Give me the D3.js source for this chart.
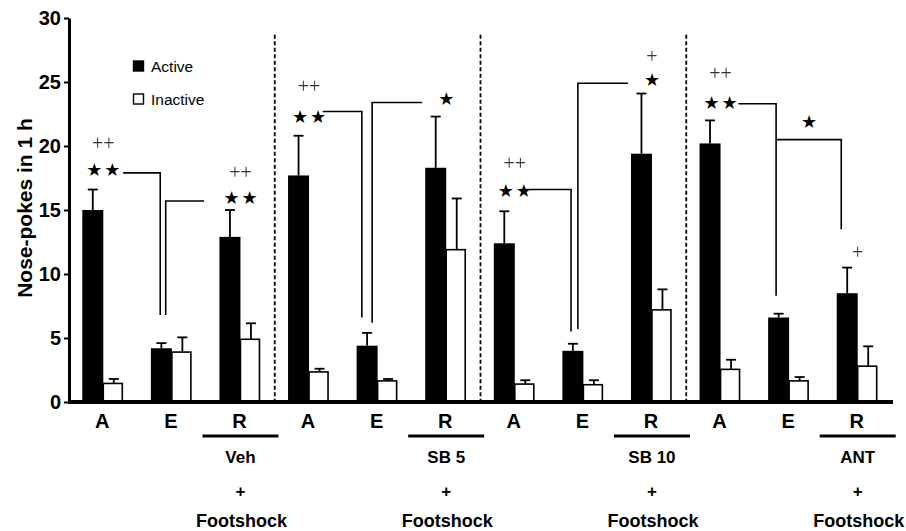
<!DOCTYPE html>
<html>
<head>
<meta charset="utf-8">
<script src="https://cdn.jsdelivr.net/npm/d3@7"></script>
<style>
  body { margin: 0; background: #fff; }
  svg { display: block; font-family: "Liberation Sans", Arial, sans-serif; }
  .tick text { font-weight: bold; font-size: 20px; fill: #000; }
  .plus { font-family: "Liberation Serif", serif; font-size: 20px; fill: #333; }
  .star { font-family: "DejaVu Sans", sans-serif; font-size: 18px; fill: #000; }
  .bracket { fill: none; stroke: #000; stroke-width: 1.6; }
</style>
</head>
<body>
<svg width="906" height="531"></svg>
<script>
// categories along the x axis (4 groups of A / E / R)
const categories = ["A","E","R","A","E","R","A","E","R","A","E","R"]
const treatments = ["Veh","SB 5","SB 10","ANT"]
const activeMean = [15.0, 4.2, 12.9, 17.7, 4.4, 18.3, 12.4, 4.0, 19.4, 20.2, 6.6, 8.5]
const activeSem = [1.6, 0.4, 2.1, 3.1, 1.0, 4.0, 2.5, 0.55, 4.7, 1.8, 0.3, 2.0]
const inactiveMean = [1.45, 3.9, 4.9, 2.35, 1.65, 11.9, 1.4, 1.35, 7.2, 2.55, 1.65, 2.8]
const inactiveSem = [0.35, 1.15, 1.25, 0.25, 0.15, 4.0, 0.3, 0.35, 1.6, 0.75, 0.3, 1.55]
const yTicks = [0, 5, 10, 15, 20, 25, 30]

// significance marks: x in category-index units, y in data units
const plusMarks = [
  {x: 0.5, v: 20.2, t: "++"}, {x: 2.5, v: 18.0, t: "++"}, {x: 3.5, v: 24.7, t: "++"},
  {x: 6.5, v: 18.7, t: "++"}, {x: 8.5, v: 27.0, t: "+"}, {x: 9.5, v: 25.7, t: "++"},
  {x: 11.5, v: 11.7, t: "+"}
]
const starMarks = [
  {x: 0.5, v: 18.2, n: 2}, {x: 2.5, v: 16.0, n: 2}, {x: 3.5, v: 22.3, n: 2},
  {x: 5.5, v: 23.7, n: 1}, {x: 6.5, v: 16.5, n: 2}, {x: 8.5, v: 25.2, n: 1},
  {x: 9.5, v: 23.4, n: 2}, {x: 10.79, v: 21.9, n: 1}
]
const brackets = [
  [[0.79, 17.9], [1.33, 17.9], [1.33, 6.8]],
  [[1.41, 6.8], [1.41, 15.7], [1.97, 15.7]],
  [[3.70, 22.7], [4.27, 22.7], [4.27, 6.6]],
  [[4.42, 6.2], [4.42, 23.4], [5.15, 23.4]],
  [[6.59, 16.6], [7.32, 16.6], [7.32, 5.5]],
  [[7.42, 5.7], [7.42, 24.9], [8.15, 24.9]],
  [[9.76, 23.3], [10.31, 23.3], [10.31, 8.3]],
  [[10.32, 20.5], [11.26, 20.5], [11.26, 13.5]]
]
const separators = [3, 6, 9]

const svg = d3.select("svg")

// plain offset filter so the thin plus glyphs get grey antialiasing
svg.append("defs").append("filter")
  .attr("id", "flat")
  .append("feOffset").attr("dx", 0).attr("dy", 0)

const x = d3.scaleBand()
  .domain(d3.range(categories.length))
  .range([69, 892])

const xIdx = d3.scaleLinear()
  .domain([0, categories.length])
  .range([69, 892])

const y = d3.scaleLinear()
  .domain([0, 30])
  .range([402, 18])

const barW = 21
const rows = categories.map((c, i) => ({
  i: i, cat: c,
  a: activeMean[i], ae: activeSem[i],
  n: inactiveMean[i], ne: inactiveSem[i]
}))
const cx = i => x(i) + x.bandwidth() / 2

// separators
svg.selectAll("line.sep")
  .data(separators)
  .enter().append("line")
  .attr("class", "sep")
  .attr("x1", d => xIdx(d)).attr("x2", d => xIdx(d))
  .attr("y1", y(28.7)).attr("y2", y(0))
  .attr("stroke", "#000")
  .attr("stroke-width", 1.8)
  .attr("stroke-dasharray", "4,2.5")

// error bars
const errs = []
rows.forEach(d => {
  errs.push({x: cx(d.i) - barW / 2, top: d.a + d.ae, base: d.a})
  errs.push({x: cx(d.i) + barW / 2, top: d.n + d.ne, base: d.n})
})
svg.selectAll("line.err")
  .data(errs)
  .enter().append("line")
  .attr("x1", d => d.x).attr("x2", d => d.x)
  .attr("y1", d => y(d.base)).attr("y2", d => y(d.top))
  .attr("stroke", "#000").attr("stroke-width", 1.8)
svg.selectAll("line.cap")
  .data(errs)
  .enter().append("line")
  .attr("x1", d => d.x - 5).attr("x2", d => d.x + 5)
  .attr("y1", d => y(d.top)).attr("y2", d => y(d.top))
  .attr("stroke", "#000").attr("stroke-width", 1.8)

// bars
svg.selectAll("rect.active")
  .data(rows)
  .enter().append("rect")
  .attr("x", d => cx(d.i) - barW)
  .attr("y", d => y(d.a))
  .attr("width", barW)
  .attr("height", d => y(0) - y(d.a))
  .attr("fill", "#000")

svg.selectAll("rect.inactive")
  .data(rows)
  .enter().append("rect")
  .attr("x", d => cx(d.i))
  .attr("y", d => y(d.n))
  .attr("width", barW - 2)
  .attr("height", d => y(0) - y(d.n))
  .attr("fill", "#fff")
  .attr("stroke", "#000")
  .attr("stroke-width", 1.6)

// axes
const yAxis = svg.append("g")
  .attr("transform", "translate(69,0)")
  .call(d3.axisLeft(y).tickValues(yTicks).tickSize(5).tickSizeOuter(0).tickPadding(3))
yAxis.select(".domain").attr("stroke-width", 3)
yAxis.selectAll(".tick line").attr("stroke-width", 2)

svg.append("line")
  .attr("x1", 68).attr("x2", 893)
  .attr("y1", y(0)).attr("y2", y(0))
  .attr("stroke", "#000").attr("stroke-width", 4)

svg.append("text")
  .attr("transform", "translate(32,208) rotate(-90)")
  .attr("text-anchor", "middle")
  .style("font-weight", "bold").style("font-size", "21px")
  .text("Nose-pokes in 1 h")

// x labels
svg.selectAll("text.cat")
  .data(rows)
  .enter().append("text")
  .attr("x", d => cx(d.i) - 1)
  .attr("y", 428)
  .attr("text-anchor", "middle")
  .style("font-weight", "bold").style("font-size", "20px")
  .text(d => d.cat)

const rIdx = treatments.map((t, k) => ({t: t, i: k * 3 + 2}))
svg.selectAll("line.under")
  .data(rIdx)
  .enter().append("line")
  .attr("x1", d => cx(d.i) - 38).attr("x2", d => cx(d.i) + 38)
  .attr("y1", 436).attr("y2", 436)
  .attr("stroke", "#000").attr("stroke-width", 3)

const tlines = [["t", 463], ["+", 497], ["Footshock", 527]]
tlines.forEach(([k, yy]) => {
  svg.selectAll(null)
    .data(rIdx)
    .enter().append("text")
    .attr("x", d => cx(d.i) + (k == "Footshock" ? 1 : 0))
    .attr("y", yy)
    .attr("text-anchor", "middle")
    .style("font-weight", "bold").style("font-size", k == "Footshock" ? "18px" : "17px")
    .text(d => k == "t" ? d.t : k)
})

// legend
const legend = [{label: "Active", fill: "#000", yy: 66}, {label: "Inactive", fill: "#fff", yy: 99}]
legend.forEach(l => {
  svg.append("rect")
    .attr("x", 133.5).attr("y", l.yy - 5)
    .attr("width", 10).attr("height", 10)
    .attr("fill", l.fill).attr("stroke", "#000").attr("stroke-width", 1.4)
  svg.append("text")
    .attr("x", 151).attr("y", l.yy + 5.5)
    .style("font-size", "15.5px")
    .text(l.label)
})

// brackets
svg.selectAll("path.bracket")
  .data(brackets)
  .enter().append("path")
  .attr("class", "bracket")
  .attr("d", d3.line().x(p => xIdx(p[0])).y(p => y(p[1])))

// significance marks
svg.append("g")
  .attr("filter", "url(#flat)")
  .selectAll("text.plus")
  .data(plusMarks)
  .enter().append("text")
  .attr("class", "plus")
  .attr("x", d => xIdx(d.x))
  .attr("y", d => y(d.v) + 7)
  .attr("text-anchor", "middle")
  .text(d => d.t)

const stars = []
starMarks.forEach(s => {
  if (s.n == 1) stars.push({x: xIdx(s.x), v: s.v})
  else {
    stars.push({x: xIdx(s.x) - 9, v: s.v})
    stars.push({x: xIdx(s.x) + 9, v: s.v})
  }
})
svg.selectAll("text.star")
  .data(stars)
  .enter().append("text")
  .attr("class", "star")
  .attr("x", d => d.x)
  .attr("y", d => y(d.v) + 6.5)
  .attr("text-anchor", "middle")
  .text("★")
</script>
</body>
</html>
